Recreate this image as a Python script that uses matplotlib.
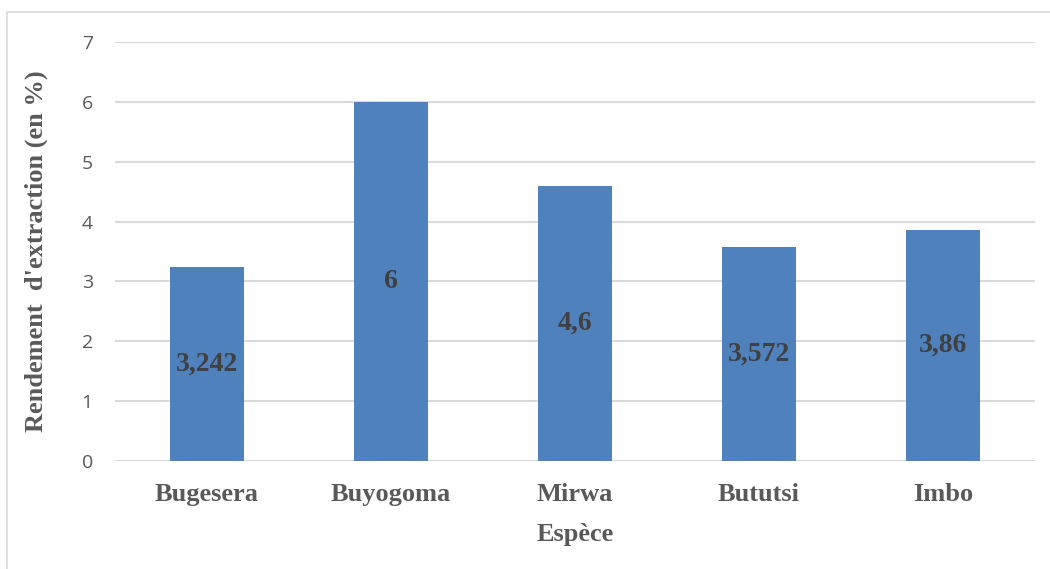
import matplotlib.pyplot as plt
from matplotlib.patches import Rectangle

especes = ['Bugesera', 'Buyogoma', 'Mirwa', 'Bututsi', 'Imbo']
rendement = [3.242, 6, 4.6, 3.572, 3.86]
etiquettes = ['3,242', '6', '4,6', '3,572', '3,86']

fig = plt.figure(figsize=(10.5, 5.69), dpi=100)
ax = fig.add_axes([115 / 1050, 1 - 461 / 569, 920 / 1050, 419 / 569])

x = range(len(especes))
bars = ax.bar(x, rendement, width=0.4, color='#4f81bd', zorder=3)

for b, lab in zip(bars, etiquettes):
    ax.text(b.get_x() + b.get_width() / 2, b.get_height() / 2, lab,
            ha='center', va='center', fontsize=20, fontweight='bold',
            family='Liberation Serif', color='#404040', zorder=4)

ax.set_xlim(-0.5, len(especes) - 0.5)
ax.set_ylim(0, 7)
ax.set_yticks(range(8))
ax.set_xticks(list(x))
ax.set_xticklabels(especes, fontsize=19, fontweight='bold',
                   family='Liberation Serif', color='#595959')
for t in ax.get_yticklabels():
    t.set_fontsize(14)
    t.set_family('Open Sans')
    t.set_color('#595959')
ax.tick_params(axis='both', length=0)
ax.tick_params(axis='x', pad=16)
ax.tick_params(axis='y', pad=16)

ax.grid(axis='y', color='#d9d9d9', lw=1.5, zorder=0)
for s in ax.spines.values():
    s.set_visible(False)

ax.set_xlabel('Espèce', fontsize=19, fontweight='bold',
              family='Liberation Serif', color='#595959', labelpad=12)
ax.set_ylabel("Rendement  d'extraction (en %)", fontsize=19, fontweight='bold',
              family='Liberation Serif', color='#595959', labelpad=24)

# light frame around the chart area
fig.patches.append(Rectangle((7 / 1050, -0.1), 1.2, 1.1 - 12 / 569,
                             transform=fig.transFigure, fill=False,
                             edgecolor='#d9d9d9', lw=1.2))

fig.savefig('out.png', dpi=100)
